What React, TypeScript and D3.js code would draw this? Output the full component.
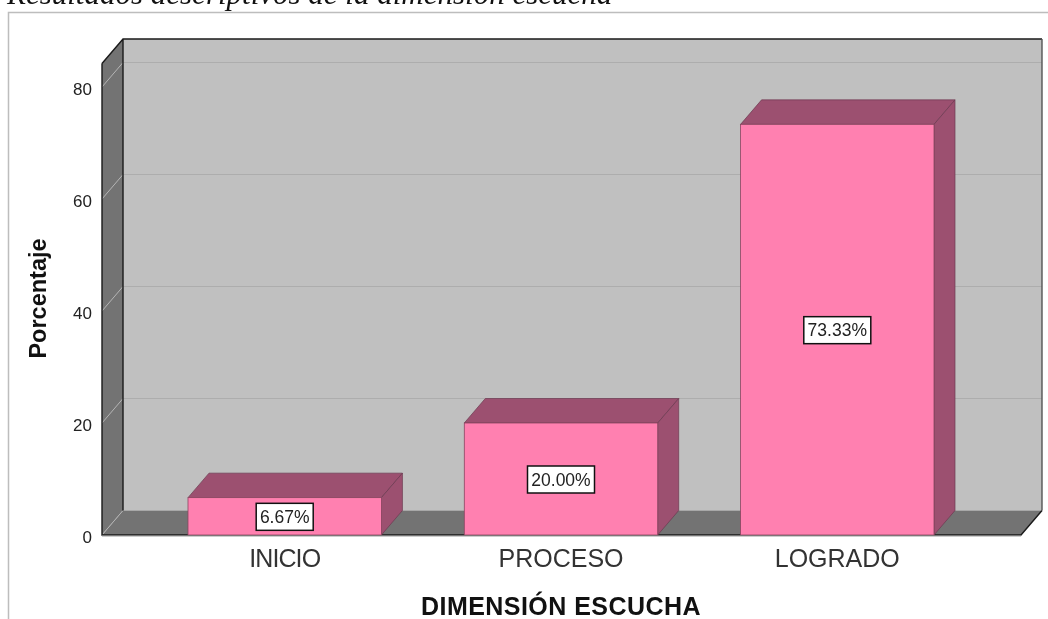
import * as d3 from 'd3';

const categories = ['INICIO', 'PROCESO', 'LOGRADO'];
const percentages = [6.67, 20.0, 73.33];
const labels = ['6.67%', '20.00%', '73.33%'];
const yTicks = [0, 20, 40, 60, 80];

const depthX = 21;
const depthY = 24.5;
const frontBottom = 535;
const floorLeft = 102;
const floorRight = 1021;

const y = d3.scaleLinear().domain([0, 80]).range([frontBottom, 87]);
const x = d3.scaleBand<string>().domain(categories).range([188, 934]).paddingInner(0.3).paddingOuter(0);

const poly = (pts: [number, number][]) => d3.line()(pts) + 'Z';
const sans = '"Liberation Sans", Arial, sans-serif';

const wallTop = y(84.2) - depthY;

export default function App() {
  const backBottom = frontBottom - depthY;
  return (
    <svg width={1048} height={619} style={{ position: 'absolute', left: 0, top: 0, background: '#fff', filter: 'blur(0.4px)' }}>
      <text x={7} y={3.5} fontFamily='"Liberation Serif", serif' fontStyle="italic" fontSize={31} fill="#111">
        Resultados descriptivos de la dimensión escucha
      </text>
      <path d="M8.5,619V12.5H1048" fill="none" stroke="#bdbdbd" strokeWidth={1.5} />

      {/* walls and floor */}
      <rect x={floorLeft + depthX} y={wallTop} width={floorRight - floorLeft} height={backBottom - wallTop} fill="#c0c0c0" />
      <path
        d={poly([[floorLeft, wallTop + depthY], [floorLeft + depthX, wallTop], [floorLeft + depthX, backBottom], [floorLeft, frontBottom]])}
        fill="#737373"
      />
      <path
        d={poly([[floorLeft, frontBottom], [floorLeft + depthX, backBottom], [floorRight + depthX, backBottom], [floorRight, frontBottom]])}
        fill="#737373"
      />
      {yTicks.map(t => (
        <g key={t}>
          <path d={`M${floorLeft},${y(t)}L${floorLeft + depthX},${y(t) - depthY}`} stroke="#b5b5b5" strokeWidth={1} fill="none" />
          {t > 0 && (
            <line x1={floorLeft + depthX} x2={floorRight + depthX} y1={y(t) - depthY} y2={y(t) - depthY} stroke="#adadad" strokeWidth={1.2} />
          )}
          <text x={92} y={y(t) + 2} dy="0.36em" textAnchor="end" fontFamily={sans} fontSize={17} fill="#222">{t}</text>
        </g>
      ))}
      <path
        d={`M${floorLeft},${wallTop + depthY}L${floorLeft + depthX},${wallTop}H${floorRight + depthX}M${floorLeft + depthX},${wallTop}V${backBottom}M${floorLeft},${wallTop + depthY}V${frontBottom}H${floorRight}L${floorRight + depthX},${backBottom}`}
        fill="none"
        stroke="#1a1a1a"
        strokeWidth={1.4}
      />
      <line x1={floorRight + depthX} x2={floorRight + depthX} y1={wallTop} y2={backBottom} stroke="#555" strokeWidth={1.4} />

      {/* bars */}
      {categories.map((c, i) => {
        const x0 = x(c)!;
        const x1 = x0 + x.bandwidth();
        const top = y(percentages[i]);
        const midX = (x0 + x1) / 2;
        const midY = (top + frontBottom) / 2;
        const boxW = labels[i].length > 5 ? 67 : 57;
        return (
          <g key={c}>
            <path
              d={poly([[x0, top], [x0 + depthX, top - depthY], [x1 + depthX, top - depthY], [x1, top]])}
              fill="#9c5070"
              stroke="#6b3a50"
              strokeWidth={0.7}
            />
            <path
              d={poly([[x1, top], [x1 + depthX, top - depthY], [x1 + depthX, frontBottom - depthY], [x1, frontBottom]])}
              fill="#9c5070"
              stroke="#6b3a50"
              strokeWidth={0.7}
            />
            <rect x={x0} y={top} width={x.bandwidth()} height={frontBottom - top} fill="#ff80b0" stroke="#8a4560" strokeWidth={0.8} />
            <rect x={midX - boxW / 2} y={midY - 13} width={boxW} height={27} fill="#fff" stroke="#111" strokeWidth={1.5} />
            <text x={midX} y={midY + 0.5} dy="0.36em" textAnchor="middle" fontFamily={sans} fontSize={17.5} fill="#222">{labels[i]}</text>
            <text
              x={midX}
              y={567}
              textAnchor="middle"
              fontFamily={sans}
              fontSize={25}
              letterSpacing={c === 'INICIO' ? -0.9 : 0}
              fill="#333"
            >
              {c}
            </text>
          </g>
        );
      })}
      <line x1={floorLeft} x2={floorRight} y1={frontBottom + 1} y2={frontBottom + 1} stroke="#999" strokeWidth={1} />

      <text x={561} y={615} textAnchor="middle" fontFamily={sans} fontSize={25} letterSpacing={0.45} fontWeight="bold" fill="#111">DIMENSIÓN ESCUCHA</text>
      <text transform="translate(46,298.5) rotate(-90)" textAnchor="middle" fontFamily={sans} fontSize={23.5} fontWeight="bold" fill="#111">Porcentaje</text>
    </svg>
  );
}
